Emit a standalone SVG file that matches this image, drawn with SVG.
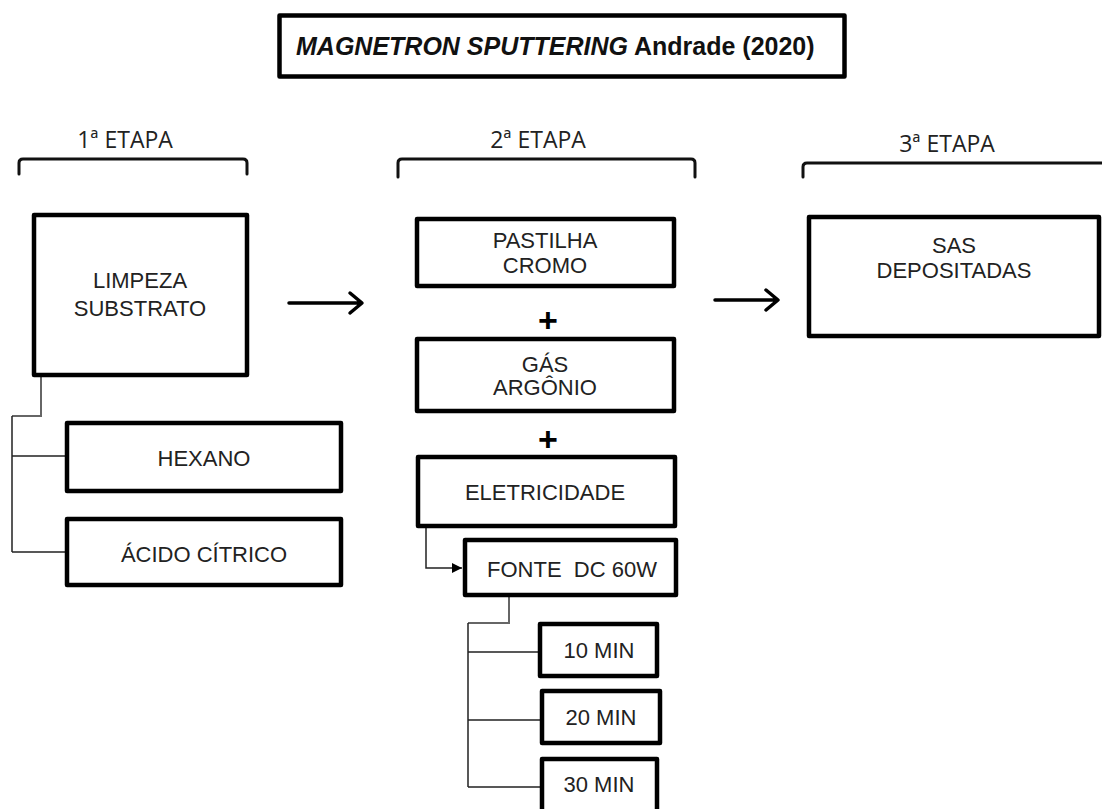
<svg xmlns="http://www.w3.org/2000/svg" width="1102" height="809" viewBox="0 0 1102 809">
<style>
  .box{fill:#fff;stroke:#000;stroke-width:4.5;stroke-linejoin:round}
  .t{font-family:"Liberation Sans",Arial,sans-serif;font-size:22px;fill:#222;text-anchor:middle}
  .ts{font-family:"Liberation Sans",Arial,sans-serif;font-size:22px;fill:#222;text-anchor:start;white-space:pre}
  .lbl{font-family:"Open Sans","Noto Sans",sans-serif;font-size:23px;fill:#222;text-anchor:middle}
  .brk{fill:none;stroke:#111;stroke-width:3;stroke-linecap:round}
  .arr{fill:none;stroke:#000;stroke-width:3.5;stroke-linecap:round;stroke-linejoin:round}
  .ln{fill:none;stroke:#222;stroke-width:1.5}
  .gln{fill:none;stroke:#666;stroke-width:2}
  .plus{font-family:"Liberation Sans",Arial,sans-serif;font-size:34px;font-weight:bold;fill:#000;text-anchor:middle}
</style>
<defs>
  <marker id="ah" viewBox="0 0 10 10" refX="10" refY="5" markerWidth="10" markerHeight="10" markerUnits="userSpaceOnUse" orient="auto">
    <path d="M0,0 L10,5 L0,10 z" fill="#000"/>
  </marker>
</defs>
<rect width="1102" height="809" fill="#fff"/>

<g id="title">
  <rect class="box" x="279.5" y="15.5" width="565" height="61" stroke-width="5"/>
  <text x="296" y="55" font-family="'Liberation Sans',Arial,sans-serif" font-size="25" font-weight="bold" fill="#111"><tspan font-style="italic">MAGNETRON SPUTTERING</tspan> Andrade (2020)</text>
</g>

<g id="etapas">
  <text class="lbl" x="125" y="148">1ª ETAPA</text>
  <path class="brk" d="M19,174 V163 Q19,159 23,159 H243 Q247,159 247,163 V174"/>
  <text class="lbl" x="538" y="148">2ª ETAPA</text>
  <path class="brk" d="M398,177 V163 Q398,159 402,159 H691 Q695,159 695,163 V177"/>
  <text class="lbl" x="947" y="152">3ª ETAPA</text>
  <path class="brk" d="M803,177 V167 Q803,163 807,163 H1110"/>
</g>

<g id="connectors">
  <path class="arr" d="M289,303 H361 M350,293 L362,303 L350,313"/>
  <path class="arr" d="M715,300 H777 M766,290 L778,300 L766,310"/>
  <path class="gln" d="M41,377 V416 H12"/>
  <path class="ln" d="M12,416 V552 M12,456 H65 M12,552 H65"/>
  <path class="ln" d="M426,528 V568 H462" marker-end="url(#ah)"/>
  <path class="gln" d="M509,597 V623 H468"/>
  <path class="ln" d="M468,623 V787 M468,652 H538 M468,720 H540 M468,787 H540"/>
</g>

<g id="limpeza">
  <rect class="box" x="34" y="215" width="213" height="160"/>
  <text class="t" x="140" y="288">LIMPEZA</text>
  <text class="t" x="140" y="316">SUBSTRATO</text>
</g>
<g id="hexano">
  <rect class="box" x="67" y="423" width="274" height="68"/>
  <text class="t" x="204" y="466">HEXANO</text>
</g>
<g id="acido">
  <rect class="box" x="67" y="519" width="274" height="66"/>
  <text class="t" x="204" y="562">ÁCIDO CÍTRICO</text>
</g>

<g id="pastilha">
  <rect class="box" x="417" y="219" width="257" height="67"/>
  <text class="t" x="545" y="248">PASTILHA</text>
  <text class="t" x="545" y="273">CROMO</text>
</g>
<g id="plus1"><text class="plus" x="548" y="332">+</text></g>
<g id="gas">
  <rect class="box" x="417" y="339" width="257" height="72"/>
  <text class="t" x="545" y="372">GÁS</text>
  <text class="t" x="545" y="395">ARGÔNIO</text>
</g>
<g id="plus2"><text class="plus" x="548" y="451">+</text></g>
<g id="eletricidade">
  <rect class="box" x="418" y="457" width="257" height="69"/>
  <text class="t" x="545" y="500">ELETRICIDADE</text>
</g>
<g id="fonte">
  <rect class="box" x="465" y="540" width="211" height="55"/>
  <text class="ts" x="487" y="577">FONTE  DC 60W</text>
</g>
<g id="min10">
  <rect class="box" x="540" y="624" width="117" height="52"/>
  <text class="t" x="599" y="658">10 MIN</text>
</g>
<g id="min20">
  <rect class="box" x="542" y="691" width="118" height="52"/>
  <text class="t" x="601" y="725">20 MIN</text>
</g>
<g id="min30">
  <rect class="box" x="542" y="759" width="115" height="60"/>
  <text class="t" x="599" y="792">30 MIN</text>
</g>

<g id="sas">
  <rect class="box" x="809" y="217" width="290" height="119"/>
  <text class="t" x="954" y="253">SAS</text>
  <text class="t" x="954" y="278">DEPOSITADAS</text>
</g>
</svg>
